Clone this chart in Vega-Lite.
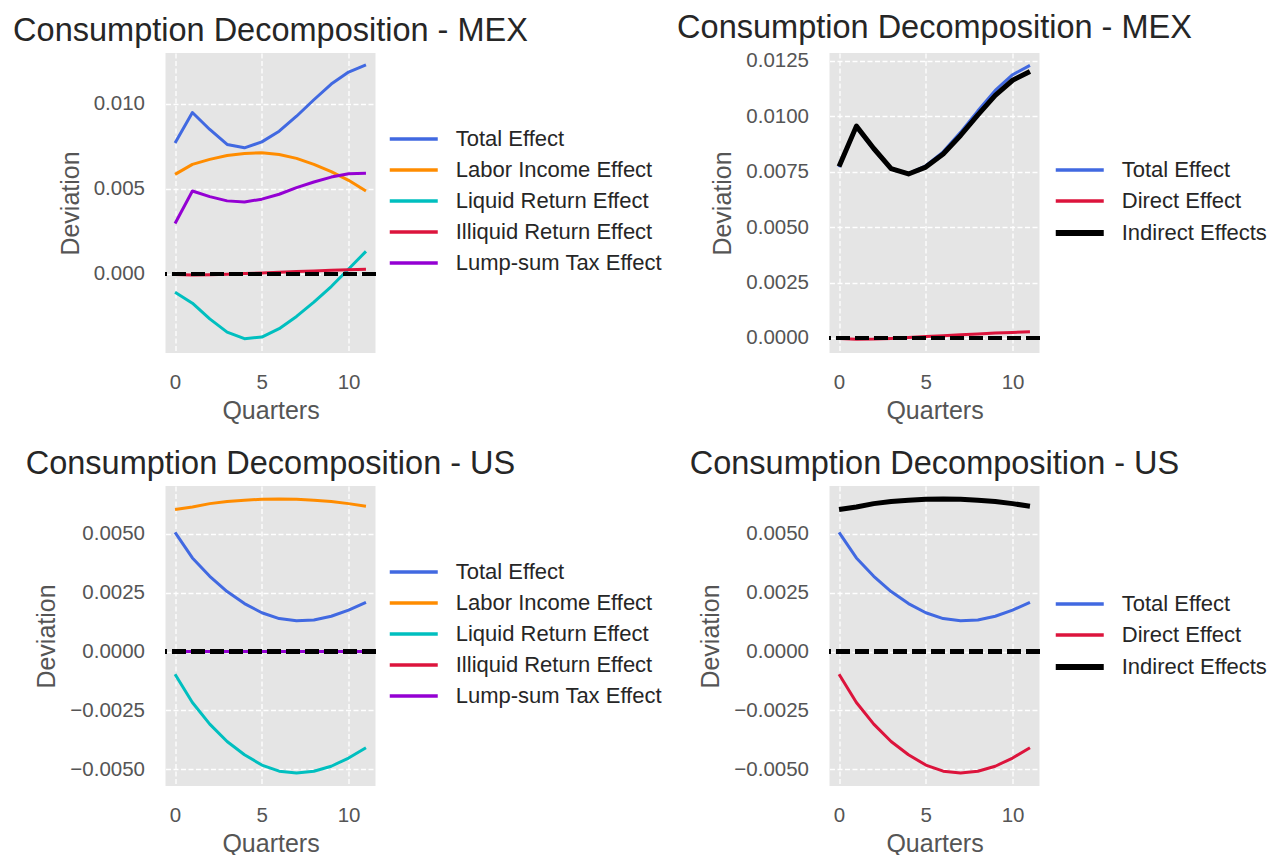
{
  "$schema": "https://vega.github.io/schema/vega-lite/v6.json",
  "background": "white",
  "padding": {"left": 12.5, "top": 12, "right": 5, "bottom": 2},
  "config": {
    "font": "Liberation Sans",
    "view": {"fill": "#E5E5E5", "stroke": null},
    "title": {"font": "Liberation Sans", "fontSize": 32.5, "fontWeight": "normal", "color": "#262626", "anchor": "middle", "frame": "group", "offset": 6},
    "axis": {
      "labelFont": "Liberation Sans", "labelFontSize": 20.5, "labelColor": "#555555",
      "titleFont": "Liberation Sans", "titleFontSize": 25, "titleFontWeight": "normal", "titleColor": "#555555",
      "domain": false, "ticks": false, "tickSize": 0,
      "grid": true, "gridColor": "#FFFFFF", "gridDash": [5, 2.5], "gridWidth": 1.3, "gridOpacity": 1,
      "labelFlush": false, "labelOverlap": false, "labelBound": false
    },
    "axisX": {"labelPadding": 19, "titlePadding": 6},
    "axisY": {"labelPadding": 21, "titlePadding": 10},
    "legend": {
      "orient": "none", "padding": 0, "title": null, "labelLimit": 0,
      "labelFont": "Liberation Sans", "labelFontSize": 22, "labelColor": "#262626",
      "symbolType": "M-4.8,0L4.8,0", "symbolSize": 100, "symbolStrokeWidth": 3.5,
      "symbolOffset": 13.25, "labelOffset": 31, "rowPadding": 9
    }
  },
  "datasets": {
    "mex_parts": [
      {"series": "Total Effect", "q": 0, "v": 0.00771}, {"series": "Total Effect", "q": 1, "v": 0.0095}, {"series": "Total Effect", "q": 2, "v": 0.0085}, {"series": "Total Effect", "q": 3, "v": 0.00762}, {"series": "Total Effect", "q": 4, "v": 0.00742}, {"series": "Total Effect", "q": 5, "v": 0.00777}, {"series": "Total Effect", "q": 6, "v": 0.0084}, {"series": "Total Effect", "q": 7, "v": 0.00928}, {"series": "Total Effect", "q": 8, "v": 0.01025}, {"series": "Total Effect", "q": 9, "v": 0.01117}, {"series": "Total Effect", "q": 10, "v": 0.01188}, {"series": "Total Effect", "q": 11, "v": 0.0123},
      {"series": "Labor Income Effect", "q": 0, "v": 0.00586}, {"series": "Labor Income Effect", "q": 1, "v": 0.00645}, {"series": "Labor Income Effect", "q": 2, "v": 0.00674}, {"series": "Labor Income Effect", "q": 3, "v": 0.00697}, {"series": "Labor Income Effect", "q": 4, "v": 0.00709}, {"series": "Labor Income Effect", "q": 5, "v": 0.00713}, {"series": "Labor Income Effect", "q": 6, "v": 0.00703}, {"series": "Labor Income Effect", "q": 7, "v": 0.0068}, {"series": "Labor Income Effect", "q": 8, "v": 0.00645}, {"series": "Labor Income Effect", "q": 9, "v": 0.00602}, {"series": "Labor Income Effect", "q": 10, "v": 0.00551}, {"series": "Labor Income Effect", "q": 11, "v": 0.00488},
      {"series": "Liquid Return Effect", "q": 0, "v": -0.00107}, {"series": "Liquid Return Effect", "q": 1, "v": -0.00172}, {"series": "Liquid Return Effect", "q": 2, "v": -0.00264}, {"series": "Liquid Return Effect", "q": 3, "v": -0.00342}, {"series": "Liquid Return Effect", "q": 4, "v": -0.00381}, {"series": "Liquid Return Effect", "q": 5, "v": -0.00371}, {"series": "Liquid Return Effect", "q": 6, "v": -0.00322}, {"series": "Liquid Return Effect", "q": 7, "v": -0.0025}, {"series": "Liquid Return Effect", "q": 8, "v": -0.00166}, {"series": "Liquid Return Effect", "q": 9, "v": -0.00074}, {"series": "Liquid Return Effect", "q": 10, "v": 0.00029}, {"series": "Liquid Return Effect", "q": 11, "v": 0.00133},
      {"series": "Illiquid Return Effect", "q": 0, "v": -0.00003}, {"series": "Illiquid Return Effect", "q": 1, "v": -0.00006}, {"series": "Illiquid Return Effect", "q": 2, "v": -0.00005}, {"series": "Illiquid Return Effect", "q": 3, "v": -0.00002}, {"series": "Illiquid Return Effect", "q": 4, "v": 0.00002}, {"series": "Illiquid Return Effect", "q": 5, "v": 0.00006}, {"series": "Illiquid Return Effect", "q": 6, "v": 0.0001}, {"series": "Illiquid Return Effect", "q": 7, "v": 0.00014}, {"series": "Illiquid Return Effect", "q": 8, "v": 0.00018}, {"series": "Illiquid Return Effect", "q": 9, "v": 0.00022}, {"series": "Illiquid Return Effect", "q": 10, "v": 0.00025}, {"series": "Illiquid Return Effect", "q": 11, "v": 0.00028},
      {"series": "Lump-sum Tax Effect", "q": 0, "v": 0.00297}, {"series": "Lump-sum Tax Effect", "q": 1, "v": 0.00488}, {"series": "Lump-sum Tax Effect", "q": 2, "v": 0.00455}, {"series": "Lump-sum Tax Effect", "q": 3, "v": 0.0043}, {"series": "Lump-sum Tax Effect", "q": 4, "v": 0.00424}, {"series": "Lump-sum Tax Effect", "q": 5, "v": 0.0044}, {"series": "Lump-sum Tax Effect", "q": 6, "v": 0.00469}, {"series": "Lump-sum Tax Effect", "q": 7, "v": 0.00508}, {"series": "Lump-sum Tax Effect", "q": 8, "v": 0.00541}, {"series": "Lump-sum Tax Effect", "q": 9, "v": 0.0057}, {"series": "Lump-sum Tax Effect", "q": 10, "v": 0.0059}, {"series": "Lump-sum Tax Effect", "q": 11, "v": 0.00592}
    ],
    "mex_split": [
      {"series": "Total Effect", "q": 0, "v": 0.00771}, {"series": "Total Effect", "q": 1, "v": 0.0095}, {"series": "Total Effect", "q": 2, "v": 0.0085}, {"series": "Total Effect", "q": 3, "v": 0.00762}, {"series": "Total Effect", "q": 4, "v": 0.00742}, {"series": "Total Effect", "q": 5, "v": 0.00777}, {"series": "Total Effect", "q": 6, "v": 0.0084}, {"series": "Total Effect", "q": 7, "v": 0.00928}, {"series": "Total Effect", "q": 8, "v": 0.01025}, {"series": "Total Effect", "q": 9, "v": 0.01117}, {"series": "Total Effect", "q": 10, "v": 0.01188}, {"series": "Total Effect", "q": 11, "v": 0.0123},
      {"series": "Direct Effect", "q": 0, "v": -0.00003}, {"series": "Direct Effect", "q": 1, "v": -0.00006}, {"series": "Direct Effect", "q": 2, "v": -0.00005}, {"series": "Direct Effect", "q": 3, "v": -0.00002}, {"series": "Direct Effect", "q": 4, "v": 0.00002}, {"series": "Direct Effect", "q": 5, "v": 0.00006}, {"series": "Direct Effect", "q": 6, "v": 0.0001}, {"series": "Direct Effect", "q": 7, "v": 0.00014}, {"series": "Direct Effect", "q": 8, "v": 0.00018}, {"series": "Direct Effect", "q": 9, "v": 0.00022}, {"series": "Direct Effect", "q": 10, "v": 0.00025}, {"series": "Direct Effect", "q": 11, "v": 0.00028},
      {"series": "Indirect Effects", "q": 0, "v": 0.00774}, {"series": "Indirect Effects", "q": 1, "v": 0.00956}, {"series": "Indirect Effects", "q": 2, "v": 0.00855}, {"series": "Indirect Effects", "q": 3, "v": 0.00764}, {"series": "Indirect Effects", "q": 4, "v": 0.0074}, {"series": "Indirect Effects", "q": 5, "v": 0.00771}, {"series": "Indirect Effects", "q": 6, "v": 0.0083}, {"series": "Indirect Effects", "q": 7, "v": 0.00914}, {"series": "Indirect Effects", "q": 8, "v": 0.01007}, {"series": "Indirect Effects", "q": 9, "v": 0.01095}, {"series": "Indirect Effects", "q": 10, "v": 0.01163}, {"series": "Indirect Effects", "q": 11, "v": 0.01202}
    ],
    "us_parts": [
      {"series": "Total Effect", "q": 0, "v": 0.00507}, {"series": "Total Effect", "q": 1, "v": 0.00398}, {"series": "Total Effect", "q": 2, "v": 0.0032}, {"series": "Total Effect", "q": 3, "v": 0.00255}, {"series": "Total Effect", "q": 4, "v": 0.00204}, {"series": "Total Effect", "q": 5, "v": 0.00165}, {"series": "Total Effect", "q": 6, "v": 0.0014}, {"series": "Total Effect", "q": 7, "v": 0.00131}, {"series": "Total Effect", "q": 8, "v": 0.00134}, {"series": "Total Effect", "q": 9, "v": 0.0015}, {"series": "Total Effect", "q": 10, "v": 0.00176}, {"series": "Total Effect", "q": 11, "v": 0.00209},
      {"series": "Labor Income Effect", "q": 0, "v": 0.00604}, {"series": "Labor Income Effect", "q": 1, "v": 0.00615}, {"series": "Labor Income Effect", "q": 2, "v": 0.00629}, {"series": "Labor Income Effect", "q": 3, "v": 0.00638}, {"series": "Labor Income Effect", "q": 4, "v": 0.00643}, {"series": "Labor Income Effect", "q": 5, "v": 0.00648}, {"series": "Labor Income Effect", "q": 6, "v": 0.00649}, {"series": "Labor Income Effect", "q": 7, "v": 0.00648}, {"series": "Labor Income Effect", "q": 8, "v": 0.00643}, {"series": "Labor Income Effect", "q": 9, "v": 0.00638}, {"series": "Labor Income Effect", "q": 10, "v": 0.00629}, {"series": "Labor Income Effect", "q": 11, "v": 0.00618},
      {"series": "Liquid Return Effect", "q": 0, "v": -0.00097}, {"series": "Liquid Return Effect", "q": 1, "v": -0.00217}, {"series": "Liquid Return Effect", "q": 2, "v": -0.00309}, {"series": "Liquid Return Effect", "q": 3, "v": -0.00383}, {"series": "Liquid Return Effect", "q": 4, "v": -0.00439}, {"series": "Liquid Return Effect", "q": 5, "v": -0.00483}, {"series": "Liquid Return Effect", "q": 6, "v": -0.00509}, {"series": "Liquid Return Effect", "q": 7, "v": -0.00517}, {"series": "Liquid Return Effect", "q": 8, "v": -0.00509}, {"series": "Liquid Return Effect", "q": 9, "v": -0.00488}, {"series": "Liquid Return Effect", "q": 10, "v": -0.00453}, {"series": "Liquid Return Effect", "q": 11, "v": -0.00409},
      {"series": "Illiquid Return Effect", "q": 0, "v": 0}, {"series": "Illiquid Return Effect", "q": 1, "v": 0}, {"series": "Illiquid Return Effect", "q": 2, "v": 0}, {"series": "Illiquid Return Effect", "q": 3, "v": 0}, {"series": "Illiquid Return Effect", "q": 4, "v": 0}, {"series": "Illiquid Return Effect", "q": 5, "v": 0}, {"series": "Illiquid Return Effect", "q": 6, "v": 0}, {"series": "Illiquid Return Effect", "q": 7, "v": 0}, {"series": "Illiquid Return Effect", "q": 8, "v": 0}, {"series": "Illiquid Return Effect", "q": 9, "v": 0}, {"series": "Illiquid Return Effect", "q": 10, "v": 0}, {"series": "Illiquid Return Effect", "q": 11, "v": 0},
      {"series": "Lump-sum Tax Effect", "q": 0, "v": 0}, {"series": "Lump-sum Tax Effect", "q": 1, "v": 0}, {"series": "Lump-sum Tax Effect", "q": 2, "v": 0}, {"series": "Lump-sum Tax Effect", "q": 3, "v": 0}, {"series": "Lump-sum Tax Effect", "q": 4, "v": 0}, {"series": "Lump-sum Tax Effect", "q": 5, "v": 0}, {"series": "Lump-sum Tax Effect", "q": 6, "v": 0}, {"series": "Lump-sum Tax Effect", "q": 7, "v": 0}, {"series": "Lump-sum Tax Effect", "q": 8, "v": 0}, {"series": "Lump-sum Tax Effect", "q": 9, "v": 0}, {"series": "Lump-sum Tax Effect", "q": 10, "v": 0}, {"series": "Lump-sum Tax Effect", "q": 11, "v": 0}
    ],
    "us_split": [
      {"series": "Total Effect", "q": 0, "v": 0.00507}, {"series": "Total Effect", "q": 1, "v": 0.00398}, {"series": "Total Effect", "q": 2, "v": 0.0032}, {"series": "Total Effect", "q": 3, "v": 0.00255}, {"series": "Total Effect", "q": 4, "v": 0.00204}, {"series": "Total Effect", "q": 5, "v": 0.00165}, {"series": "Total Effect", "q": 6, "v": 0.0014}, {"series": "Total Effect", "q": 7, "v": 0.00131}, {"series": "Total Effect", "q": 8, "v": 0.00134}, {"series": "Total Effect", "q": 9, "v": 0.0015}, {"series": "Total Effect", "q": 10, "v": 0.00176}, {"series": "Total Effect", "q": 11, "v": 0.00209},
      {"series": "Direct Effect", "q": 0, "v": -0.00097}, {"series": "Direct Effect", "q": 1, "v": -0.00217}, {"series": "Direct Effect", "q": 2, "v": -0.00309}, {"series": "Direct Effect", "q": 3, "v": -0.00383}, {"series": "Direct Effect", "q": 4, "v": -0.00439}, {"series": "Direct Effect", "q": 5, "v": -0.00483}, {"series": "Direct Effect", "q": 6, "v": -0.00509}, {"series": "Direct Effect", "q": 7, "v": -0.00517}, {"series": "Direct Effect", "q": 8, "v": -0.00509}, {"series": "Direct Effect", "q": 9, "v": -0.00488}, {"series": "Direct Effect", "q": 10, "v": -0.00453}, {"series": "Direct Effect", "q": 11, "v": -0.00409},
      {"series": "Indirect Effects", "q": 0, "v": 0.00604}, {"series": "Indirect Effects", "q": 1, "v": 0.00615}, {"series": "Indirect Effects", "q": 2, "v": 0.00629}, {"series": "Indirect Effects", "q": 3, "v": 0.00638}, {"series": "Indirect Effects", "q": 4, "v": 0.00643}, {"series": "Indirect Effects", "q": 5, "v": 0.00648}, {"series": "Indirect Effects", "q": 6, "v": 0.00649}, {"series": "Indirect Effects", "q": 7, "v": 0.00648}, {"series": "Indirect Effects", "q": 8, "v": 0.00643}, {"series": "Indirect Effects", "q": 9, "v": 0.00638}, {"series": "Indirect Effects", "q": 10, "v": 0.00629}, {"series": "Indirect Effects", "q": 11, "v": 0.00618}
    ]
  },
  "concat": [
    {
      "width": 210, "height": 300,
      "title": {"text": "Consumption Decomposition - MEX"},
      "data": {"name": "mex_parts"},
      "layer": [
        {
          "mark": {"type": "line", "strokeWidth": 3, "strokeCap": "butt", "strokeJoin": "round"},
          "encoding": {
            "x": {"field": "q", "type": "quantitative", "scale": {"domain": [-0.55, 11.55], "nice": false, "zero": false}, "axis": {"values": [0, 5, 10], "format": "d", "title": "Quarters"}},
            "y": {"field": "v", "type": "quantitative", "scale": {"domain": [-0.00465, 0.013], "nice": false, "zero": false}, "axis": {"values": [0, 0.005, 0.01], "format": ".3f", "title": "Deviation"}},
            "color": {"field": "series", "type": "nominal",
              "scale": {"domain": ["Total Effect", "Labor Income Effect", "Liquid Return Effect", "Illiquid Return Effect", "Lump-sum Tax Effect"], "range": ["#4169E1", "#FF8C00", "#00BFBF", "#DC143C", "#9400D3"]},
              "legend": {"legendX": 224, "legendY": 75}}
          }
        },
        {
          "mark": {"type": "rule", "color": "#000000", "strokeWidth": 3.5, "strokeDash": [13, 6]},
          "encoding": {"y": {"datum": 0}}
        }
      ]
    },
    {
      "width": 210, "height": 300,
      "title": {"text": "Consumption Decomposition - MEX"},
      "data": {"name": "mex_split"},
      "layer": [
        {
          "mark": {"type": "line", "strokeCap": "butt", "strokeJoin": "round"},
          "encoding": {
            "x": {"field": "q", "type": "quantitative", "scale": {"domain": [-0.55, 11.55], "nice": false, "zero": false}, "axis": {"values": [0, 5, 10], "format": "d", "title": "Quarters"}},
            "y": {"field": "v", "type": "quantitative", "scale": {"domain": [-0.00068, 0.01286], "nice": false, "zero": false}, "axis": {"values": [0, 0.0025, 0.005, 0.0075, 0.01, 0.0125], "format": ".4f", "title": "Deviation"}},
            "color": {"field": "series", "type": "nominal",
              "scale": {"domain": ["Total Effect", "Direct Effect", "Indirect Effects"], "range": ["#4169E1", "#DC143C", "#000000"]},
              "legend": {"legendX": 226, "legendY": 106, "encode": {"symbols": {"update": {"strokeWidth": {"signal": "datum.value === 'Indirect Effects' ? 6 : 3.5"}}}}}},
            "strokeWidth": {"condition": {"test": "datum.series === 'Indirect Effects'", "value": 5}, "value": 3}
          }
        },
        {
          "mark": {"type": "rule", "color": "#000000", "strokeWidth": 3.5, "strokeDash": [13, 6]},
          "encoding": {"y": {"datum": 0}}
        }
      ]
    },
    {
      "width": 210, "height": 300,
      "title": {"text": "Consumption Decomposition - US"},
      "data": {"name": "us_parts"},
      "layer": [
        {
          "mark": {"type": "line", "strokeWidth": 3, "strokeCap": "butt", "strokeJoin": "round"},
          "encoding": {
            "x": {"field": "q", "type": "quantitative", "scale": {"domain": [-0.55, 11.55], "nice": false, "zero": false}, "axis": {"values": [0, 5, 10], "format": "d", "title": "Quarters"}},
            "y": {"field": "v", "type": "quantitative", "scale": {"domain": [-0.00572, 0.00704], "nice": false, "zero": false}, "axis": {"values": [-0.005, -0.0025, 0, 0.0025, 0.005], "format": ".4f", "title": "Deviation"}},
            "color": {"field": "series", "type": "nominal",
              "scale": {"domain": ["Total Effect", "Labor Income Effect", "Liquid Return Effect", "Illiquid Return Effect", "Lump-sum Tax Effect"], "range": ["#4169E1", "#FF8C00", "#00BFBF", "#DC143C", "#9400D3"]},
              "legend": {"legendX": 224, "legendY": 75}}
          }
        },
        {
          "mark": {"type": "rule", "color": "#000000", "strokeWidth": 3.5, "strokeDash": [13, 6]},
          "encoding": {"y": {"datum": 0}}
        }
      ]
    },
    {
      "width": 210, "height": 300,
      "title": {"text": "Consumption Decomposition - US"},
      "data": {"name": "us_split"},
      "layer": [
        {
          "mark": {"type": "line", "strokeCap": "butt", "strokeJoin": "round"},
          "encoding": {
            "x": {"field": "q", "type": "quantitative", "scale": {"domain": [-0.55, 11.55], "nice": false, "zero": false}, "axis": {"values": [0, 5, 10], "format": "d", "title": "Quarters"}},
            "y": {"field": "v", "type": "quantitative", "scale": {"domain": [-0.00572, 0.00704], "nice": false, "zero": false}, "axis": {"values": [-0.005, -0.0025, 0, 0.0025, 0.005], "format": ".4f", "title": "Deviation"}},
            "color": {"field": "series", "type": "nominal",
              "scale": {"domain": ["Total Effect", "Direct Effect", "Indirect Effects"], "range": ["#4169E1", "#DC143C", "#000000"]},
              "legend": {"legendX": 226, "legendY": 107, "encode": {"symbols": {"update": {"strokeWidth": {"signal": "datum.value === 'Indirect Effects' ? 6 : 3.5"}}}}}},
            "strokeWidth": {"condition": {"test": "datum.series === 'Indirect Effects'", "value": 5}, "value": 3}
          }
        },
        {
          "mark": {"type": "rule", "color": "#000000", "strokeWidth": 3.5, "strokeDash": [13, 6]},
          "encoding": {"y": {"datum": 0}}
        }
      ]
    }
  ],
  "columns": 2,
  "spacing": {"row": 133, "column": 454},
  "bounds": "flush",
  "resolve": {"scale": {"x": "independent", "y": "independent", "color": "independent"}, "legend": {"color": "independent"}}
}
